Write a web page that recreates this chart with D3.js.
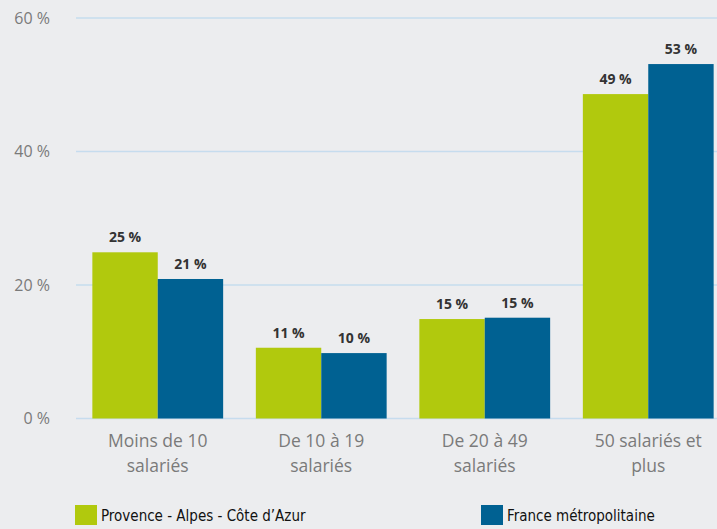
<!DOCTYPE html>
<html>
<head>
<meta charset="utf-8">
<script src="https://cdn.jsdelivr.net/npm/d3@7"></script>
<style>
  body { margin: 0; background: #ecedef; }
  svg { display: block; }
</style>
</head>
<body>
<div id="chart"></div>
<script>
// chart size
var svgWidth = 717;
var svgHeight = 529;

// data
var categories = ["Moins de 10 salariés", "De 10 à 19 salariés", "De 20 à 49 salariés", "50 salariés et plus"];
var categoryLines = [["Moins de 10", "salariés"], ["De 10 à 19", "salariés"], ["De 20 à 49", "salariés"], ["50 salariés et", "plus"]];
var seriesNames = ["Provence - Alpes - Côte d\u2019Azur", "France métropolitaine"];
var pacaValues = [24.9, 10.6, 14.9, 48.6];
var franceValues = [20.9, 9.8, 15.1, 53.1];
var pacaLabels = ["25 %", "11 %", "15 %", "49 %"];
var franceLabels = ["21 %", "10 %", "15 %", "53 %"];
var yTicks = [0, 20, 40, 60];
var colors = ["#b1c90d", "#006192"];

var svg = d3.select("#chart")
    .append("svg")
    .attr("width", svgWidth)
    .attr("height", svgHeight);

svg.append("rect")
    .attr("width", svgWidth)
    .attr("height", svgHeight)
    .attr("fill", "#ecedef");

// scales
var xScale = d3.scaleBand()
    .domain(categories)
    .range([76, 730])
    .paddingInner(0.2)
    .paddingOuter(0.1);

var subScale = d3.scaleBand()
    .domain([0, 1])
    .range([0, xScale.bandwidth()]);

var yScale = d3.scaleLinear()
    .domain([0, 60])
    .range([418.5, 18]);

// gridlines
svg.append("g")
    .selectAll("line")
    .data(yTicks)
    .enter()
    .append("line")
    .attr("x1", 76)
    .attr("x2", svgWidth)
    .attr("y1", d => yScale(d))
    .attr("y2", d => yScale(d))
    .attr("stroke", "#c6dcee")
    .attr("stroke-width", 1.5);

// y axis labels
var leftAxis = d3.axisLeft(yScale)
    .tickValues(yTicks)
    .tickFormat(d => d + " %")
    .tickSize(0)
    .tickPadding(0);

var yAxis = svg.append("g")
    .attr("transform", "translate(50, 0)")
    .call(leftAxis);
yAxis.select(".domain").remove();
yAxis.selectAll("text")
    .attr("font-family", "Open Sans")
    .attr("font-size", 16)
    .attr("fill", "#7a7a7a");

// bars
var series = [pacaValues, franceValues];
var seriesLabels = [pacaLabels, franceLabels];

series.forEach(function(values, s) {
    var g = svg.append("g");
    g.selectAll("rect")
        .data(values)
        .enter()
        .append("rect")
        .attr("x", (d, i) => xScale(categories[i]) + subScale(s))
        .attr("width", subScale.bandwidth())
        .attr("y", d => yScale(d))
        .attr("height", d => yScale(0) - yScale(d))
        .attr("fill", colors[s]);

    g.selectAll("text")
        .data(values)
        .enter()
        .append("text")
        .attr("x", (d, i) => xScale(categories[i]) + subScale(s) + subScale.bandwidth() / 2)
        .attr("y", d => yScale(d) - 10)
        .attr("text-anchor", "middle")
        .attr("font-family", "Open Sans")
        .attr("font-weight", "bold")
        .attr("font-size", 14)
        .attr("fill", "#333")
        .text((d, i) => seriesLabels[s][i]);
});

// x axis category labels
var catGroup = svg.append("g");
categories.forEach(function(c, i) {
    var t = catGroup.append("text")
        .attr("x", xScale(c) + xScale.bandwidth() / 2)
        .attr("y", 447)
        .attr("text-anchor", "middle")
        .attr("font-family", "Open Sans")
        .attr("font-size", 17.5)
        .attr("fill", "#7a7a7a");
    categoryLines[i].forEach(function(line, j) {
        t.append("tspan")
            .attr("x", xScale(c) + xScale.bandwidth() / 2)
            .attr("dy", j === 0 ? 0 : 25)
            .text(line);
    });
});

// legend
var legendX = [75, 481];
var legend = svg.append("g");
seriesNames.forEach(function(name, s) {
    legend.append("rect")
        .attr("x", legendX[s])
        .attr("y", 505)
        .attr("width", 22)
        .attr("height", 20)
        .attr("fill", colors[s]);
    legend.append("text")
        .attr("x", legendX[s] + 26)
        .attr("y", 521)
        .attr("font-family", "DejaVu Sans Condensed")
        .attr("font-size", 15)
        .attr("fill", "#111")
        .text(name);
});
</script>
</body>
</html>
